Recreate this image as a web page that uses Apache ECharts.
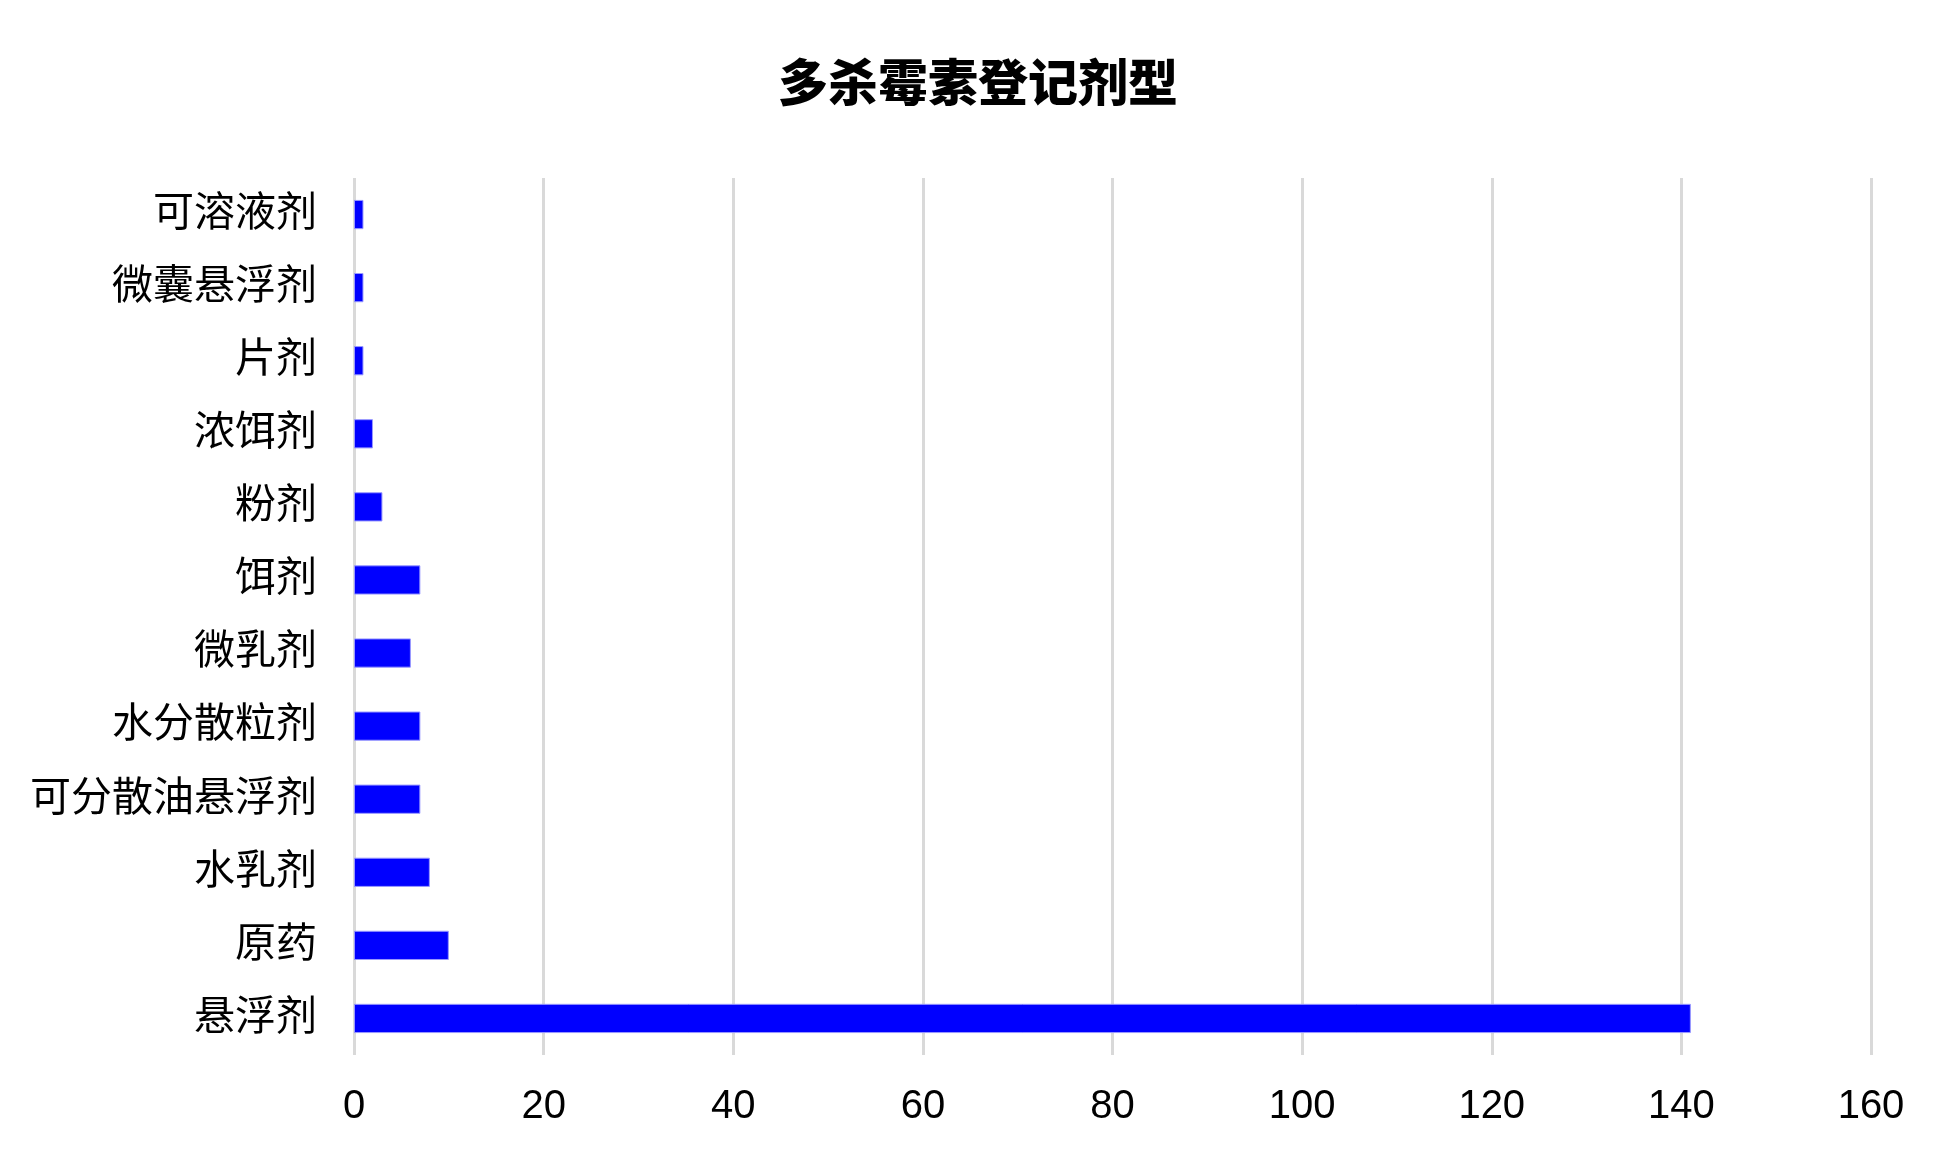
<!DOCTYPE html>
<html>
<head>
<meta charset="utf-8">
<script src="https://cdn.jsdelivr.net/npm/echarts@6/dist/echarts.min.js"></script>
<style>
html,body{margin:0;padding:0;background:#fff;}
#chart{width:1956px;height:1157px;}
</style>
</head>
<body>
<div id="chart"></div>
<script>
const titleText = '多杀霉素登记剂型';
const categories = ['可溶液剂','微囊悬浮剂','片剂','浓饵剂','粉剂','饵剂','微乳剂','水分散粒剂','可分散油悬浮剂','水乳剂','原药','悬浮剂'];
const counts = [1,1,1,2,3,7,6,7,7,8,10,141];
const xMin = 0, xMax = 160, xStep = 20;

const chart = echarts.init(document.getElementById('chart'));
chart.setOption({
  backgroundColor: '#ffffff',
  animation: false,
  title: {
    text: titleText,
    left: 'center',
    top: 52,
    textStyle: {
      fontFamily: '"Noto Sans CJK SC", sans-serif',
      fontWeight: 900,
      fontSize: 50,
      color: '#000'
    }
  },
  grid: { left: 354, right: 85, top: 178, bottom: 102, containLabel: false },
  xAxis: {
    type: 'value',
    min: xMin, max: xMax, interval: xStep,
    axisLine: { show: false },
    axisTick: { show: false },
    splitLine: { show: true, lineStyle: { color: '#d9d9d9', width: 3 } },
    axisLabel: {
      margin: 32,
      fontSize: 40,
      color: '#000',
      fontFamily: '"Liberation Sans", Arial, sans-serif'
    }
  },
  yAxis: {
    type: 'category',
    data: categories,
    inverse: true,
    axisLine: { show: false },
    axisTick: { show: false },
    splitLine: { show: false },
    axisLabel: {
      margin: 37,
      fontSize: 41,
      padding: [16, 0, 0, 0],
      color: '#000',
      fontFamily: '"Liberation Sans", "Noto Sans CJK SC", sans-serif'
    }
  },
  series: [{
    type: 'bar',
    data: counts,
    barWidth: '40%',
    itemStyle: { color: '#0000ff', borderColor: '#9999ff', borderWidth: 1 }
  }]
});
</script>
</body>
</html>
